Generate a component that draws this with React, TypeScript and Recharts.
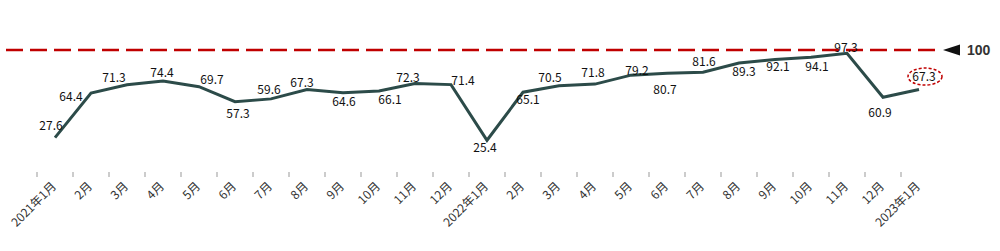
import React from 'react';
import { LineChart, Line, XAxis, YAxis, ReferenceLine, LabelList } from 'recharts';

const MONTHS = [
  '2021年1月', '2月', '3月', '4月', '5月', '6月', '7月', '8月', '9月', '10月', '11月', '12月',
  '2022年1月', '2月', '3月', '4月', '5月', '6月', '7月', '8月', '9月', '10月', '11月', '12月',
  '2023年1月',
];

const VALUES = [
  27.6, 64.4, 71.3, 74.4, 69.7, 57.3, 59.6, 67.3, 64.6, 66.1, 72.3, 71.4,
  25.4, 65.1, 70.5, 71.8, 79.2, 80.7, 81.6, 89.3, 92.1, 94.1, 97.3, 60.9,
  67.3,
];

const BENCHMARK = 100;

// where each value label sits relative to its point (label centre offset)
const LABEL_OFFSETS: [number, number][] = [
  [-4, -12], [-20, 4], [-13, -7], [-1, -8], [13, -7], [3, 12], [-2, -9], [-5, -7],
  [1, 9], [11, 9], [-7, -6], [12, -4], [-2, 8], [5, 8], [-9, -8], [-2, -11],
  [6, -4], [-2, 16], [1, -10], [5, 9], [3, 7], [6, 10], [-1, -5], [-3, 15],
  [5, -13],
];

const FONT = '"Noto Sans CJK SC", "Noto Sans", sans-serif';
const LINE_COLOR = '#2c4b49';
const RED = '#c00000';

const data = MONTHS.map((m, i) => ({ month: m, value: VALUES[i], idx: i }));

const MonthTick = (props: any) => {
  const { x, y, payload } = props;
  return (
    <g>
      <line x1={x - 18} x2={x - 18} y1={y + 1} y2={y + 6} stroke="#999" strokeWidth={1} />
      <text
        x={x + 2}
        y={y + 16}
        textAnchor="end"
        fontSize={12}
        fontFamily={FONT}
        fill="#333"
        transform={`rotate(-45, ${x + 2}, ${y + 16})`}
      >
        {payload.value}
      </text>
    </g>
  );
};

const ValueLabel = (props: any) => {
  const { x, y, value, index } = props;
  const [dx, dy] = LABEL_OFFSETS[index] || [0, -10];
  const cx = x + dx;
  const cy = y + dy;
  const last = index === VALUES.length - 1;
  return (
    <g>
      {last && (
        <ellipse cx={cx + 1} cy={cy} rx={17} ry={8.5} fill="#fff" stroke={RED} strokeWidth={1.5} strokeDasharray="3 2" />
      )}
      <text x={cx} y={cy} dy="0.35em" textAnchor="middle" fontSize={12} fontFamily={FONT} fill="#111">
        {value}
      </text>
    </g>
  );
};

const BenchLabel = (props: any) => {
  const { viewBox } = props;
  const ex = viewBox.x + viewBox.width;
  const yy = viewBox.y;
  return (
    <g>
      <polygon points={`${ex + 8},${yy} ${ex + 25},${yy - 5.5} ${ex + 25},${yy + 5.5}`} fill="#111" />
      <text
        x={ex + 32}
        y={yy}
        dy="0.36em"
        fontSize={14}
        fontWeight="bold"
        fontFamily='"Liberation Sans Narrow", "Arial Narrow", sans-serif'
        fill="#333"
      >
        {BENCHMARK}
      </text>
    </g>
  );
};

export default function App() {
  return (
    <div style={{ position: 'absolute', left: 0, top: 0, background: '#fff' }}>
      <LineChart width={1000} height={251} data={data} margin={{ top: 50, right: 65, left: 6, bottom: 0 }}>
        <XAxis
          dataKey="idx"
          height={80}
          axisLine={false}
          tickLine={false}
          tickSize={0}
          tickMargin={0}
          interval={0}
          padding={{ left: 49, right: 16 }}
          tick={(p: any) => <MonthTick {...p} payload={{ value: MONTHS[p.payload.value] }} />}
        />
        <YAxis hide domain={[0, 100]} />
        <ReferenceLine
          y={BENCHMARK}
          stroke={RED}
          strokeWidth={2.5}
          strokeDasharray="17 7"
          label={<BenchLabel />}
        />
        <Line
          type="linear"
          dataKey="value"
          stroke={LINE_COLOR}
          strokeWidth={3}
          dot={false}
          isAnimationActive={false}
        >
          <LabelList dataKey="value" content={<ValueLabel />} />
        </Line>
      </LineChart>
    </div>
  );
}
